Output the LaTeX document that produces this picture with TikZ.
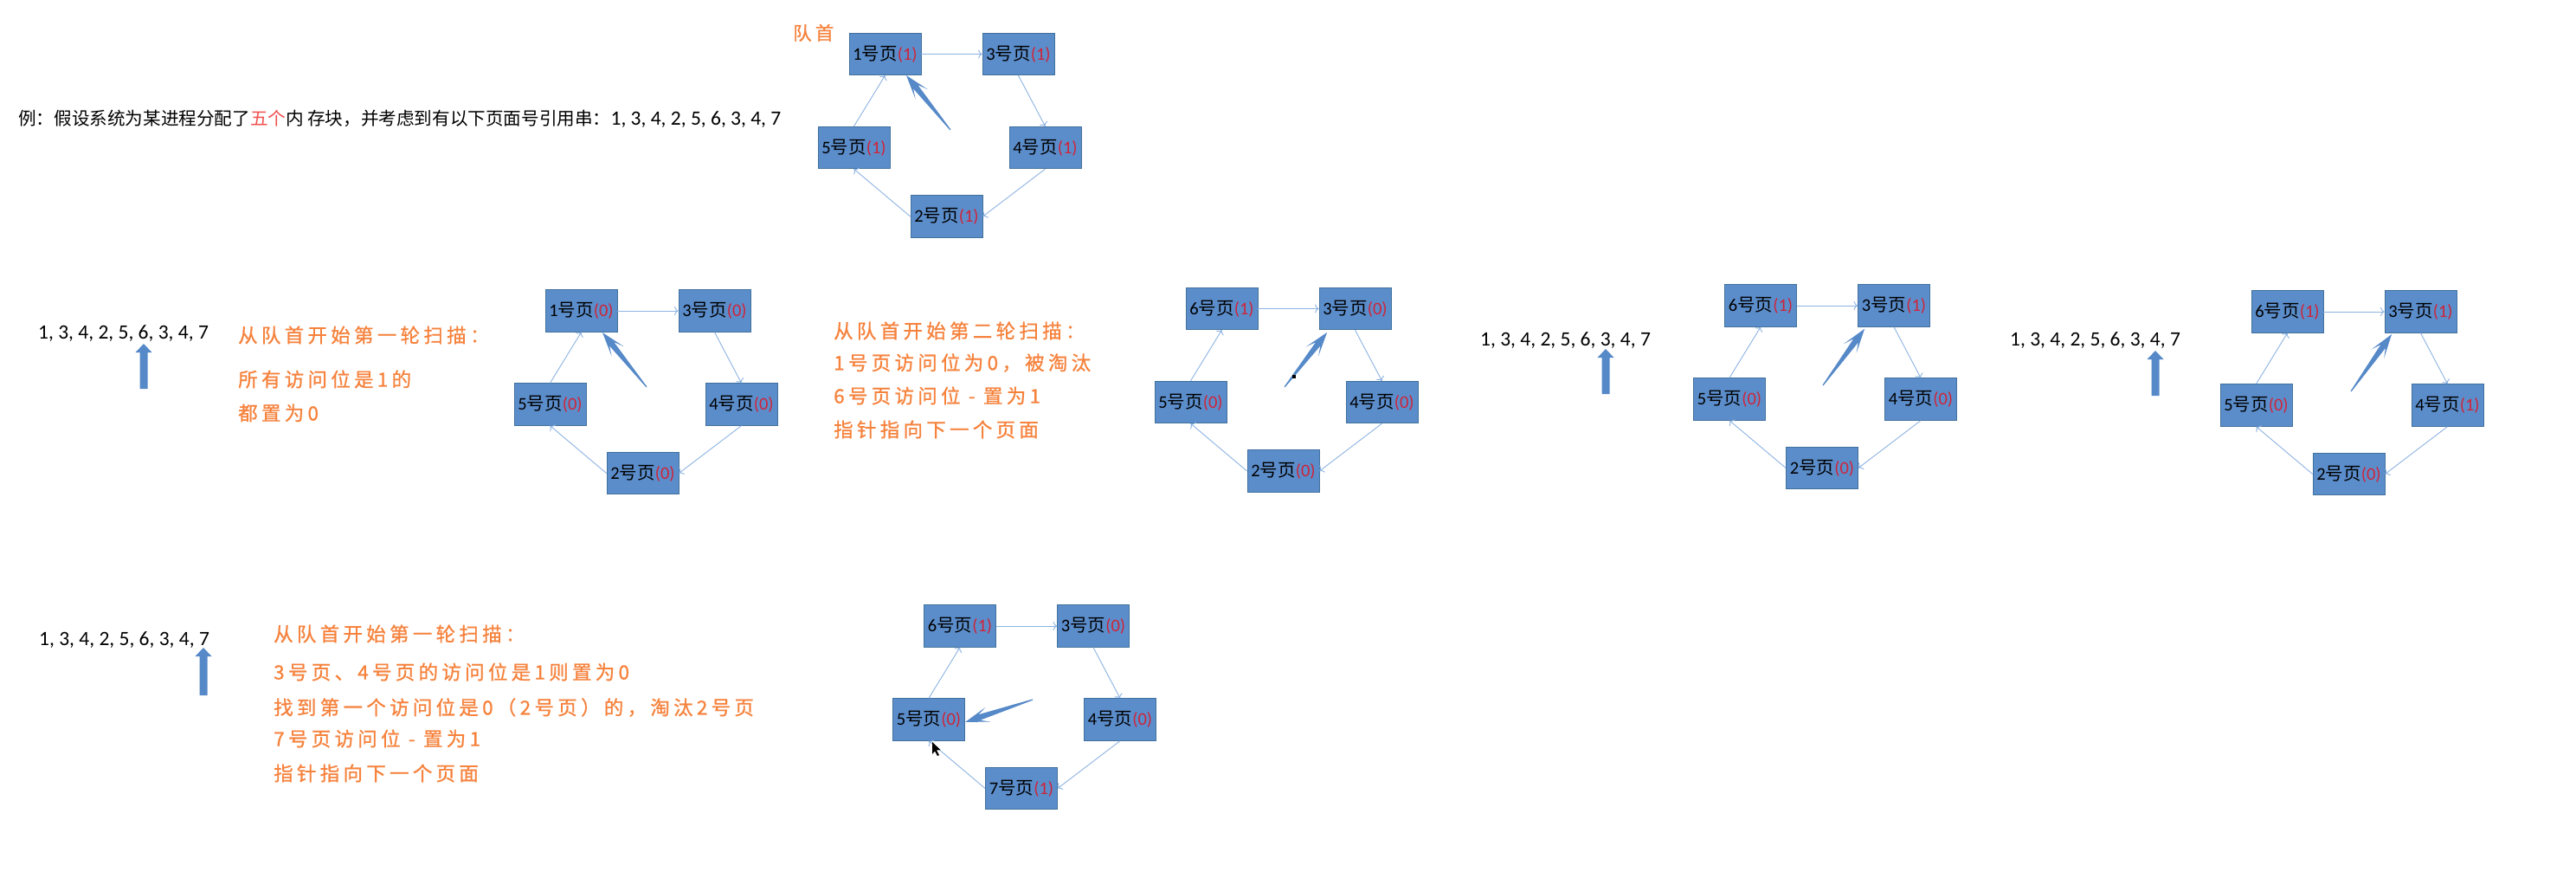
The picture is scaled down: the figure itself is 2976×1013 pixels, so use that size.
\documentclass[tikz,border=0pt]{standalone}
\usepackage{fontspec}
\setmainfont{Carlito}
\newfontfamily\cjk{Noto Sans CJK SC}
\newfontfamily\cjko[LetterSpace=19,FakeBold=0.8]{Noto Sans CJK SC}
\usetikzlibrary{arrows.meta}
\definecolor{boxfill}{RGB}{91,141,203}
\definecolor{boxline}{RGB}{65,113,156}
\definecolor{connblue}{RGB}{141,179,226}
\definecolor{ptrcol}{RGB}{86,137,200}
\definecolor{orangetxt}{RGB}{246,130,60}
\definecolor{bitred}{RGB}{208,36,56}
\definecolor{redfive}{RGB}{240,80,79}
\newcommand\lbl{\fontsize{20.5}{24}\selectfont}
\newcommand\pg[2]{#1{\cjk 号页}\textcolor{bitred}{(#2)}}
\newcommand\ring[7]{%
  \begin{scope}[shift={#2}]
    \node[pagebox] (#1A) at (0,0) {#3};
    \node[pagebox] (#1B) at (154,0) {#4};
    \node[pagebox] (#1D) at (185,108) {#5};
    \node[pagebox] (#1C) at (71,187.5) {#6};
    \node[pagebox] (#1E) at (-36,108) {#7};
  \end{scope}
  \draw[conn] (#1A.east) -- (#1B.west);
  \draw[conn] (#1B.south) -- (#1D.north);
  \draw[conn] (#1D.south) -- (#1C.east);
  \draw[conn] (#1C.west) -- (#1E.south);
  \draw[conn] (#1E.north) -- (#1A.south);
}
\newcommand\blockup[4]{%
  \fill[ptrcol] (#2-4.5,#4) -- (#2-4.5,#3+10) -- (#2-9.5,#3+10) -- (#2,#3)
    -- (#2+9.5,#3+10) -- (#2+4.5,#3+10) -- (#2+4.5,#4) -- cycle;
  \coordinate (#1) at (#2,#3);
}
\tikzset{
  pagebox/.style={draw=boxline, line width=0.8pt, fill=boxfill, minimum width=83pt,
    minimum height=48.5pt, inner sep=0pt, font=\lbl, text=black},
  conn/.style={draw=connblue, line width=0.9pt, -{To[length=4.5pt,width=10pt]}},
  otext/.style={anchor=west, inner sep=0pt, text=orangetxt,
    font=\cjko\fontsize{22.5}{26}\selectfont},
  numtext/.style={anchor=west, inner sep=0pt, font=\fontsize{23.5}{28}\selectfont},
  pics/pointer/.style={code={
    \fill[ptrcol] (0,0.6) -- (#1-17,3.4) -- (#1-28,9) -- (#1,0) -- (#1-28,-9)
      -- (#1-17,-3.4) -- (0,-0.6) -- cycle;}}
}
\begin{document}
\begin{tikzpicture}[x=1pt,y=-1pt]
\fill[white] (0,0) rectangle (2976,1013);
\useasboundingbox (0,0) rectangle (2976,1013);

% ---------- top: problem statement ----------
\node[anchor=west, inner sep=0pt] (intro) at (21,137)
  {{\cjk\fontsize{20.6}{24}\selectfont 例：假设系统为某进程分配了\textcolor{redfive}{五个}内 存块，并考虑到有以下页面号引用串：}{\fontsize{23.5}{28}\selectfont 1, 3, 4, 2, 5, 6, 3, 4, 7}};
\node[otext, font=\cjko\fontsize{21.5}{25}\selectfont] (head) at (916,38) {队首};

\ring{a}{(1022.5,62.5)}{\pg{1}{1}}{\pg{3}{1}}{\pg{4}{1}}{\pg{2}{1}}{\pg{5}{1}}
\pic[rotate=129.0] at (1098,150) {pointer=81};

% ---------- row 2, diagram 1 ----------
\node[numtext] (s1) at (44,385) {1, 3, 4, 2, 5, 6, 3, 4, 7};
\blockup{u1}{166}{397}{449}
\node[otext] (t1a) at (275,387) {从队首开始第一轮扫描：};
\node[otext] (t1b) at (275,438) {所有访问位是1的};
\node[otext] (t1c) at (275,477) {都置为0};
\ring{b}{(671.5,359)}{\pg{1}{0}}{\pg{3}{0}}{\pg{4}{0}}{\pg{2}{0}}{\pg{5}{0}}
\pic[rotate=129.0] at (747,447) {pointer=81};

% ---------- row 2, diagram 2 ----------
\node[otext] (t2a) at (963,382) {从队首开始第二轮扫描：};
\node[otext] (t2b) at (963,419) {1号页访问位为0，被淘汰};
\node[otext] (t2c) at (963,457) {6号页访问位 - 置为1};
\node[otext] (t2d) at (963,496) {指针指向下一个页面};
\ring{c}{(1411.5,356.5)}{\pg{6}{1}}{\pg{3}{0}}{\pg{4}{0}}{\pg{2}{0}}{\pg{5}{0}}
\pic[rotate=52.1] at (1484,447) {pointer=80};
\fill[black] (1493,433) rectangle (1497,437);

% ---------- row 2, diagram 3 ----------
\node[numtext] (s3) at (1710,393) {1, 3, 4, 2, 5, 6, 3, 4, 7};
\blockup{u3}{1855}{403}{455}
\ring{d}{(2034,353)}{\pg{6}{1}}{\pg{3}{1}}{\pg{4}{0}}{\pg{2}{0}}{\pg{5}{0}}
\pic[rotate=53.6] at (2106,445) {pointer=81};

% ---------- row 2, diagram 4 ----------
\node[numtext] (s4) at (2322,393) {1, 3, 4, 2, 5, 6, 3, 4, 7};
\blockup{u4}{2490}{405}{457}
\ring{e}{(2642.5,360)}{\pg{6}{1}}{\pg{3}{1}}{\pg{4}{1}}{\pg{2}{0}}{\pg{5}{0}}
\pic[rotate=54.5] at (2716,452) {pointer=81};

% ---------- row 3 ----------
\node[numtext] (s5) at (45,739) {1, 3, 4, 2, 5, 6, 3, 4, 7};
\blockup{u5}{235}{748}{803}
\node[otext] (t5a) at (316,732) {从队首开始第一轮扫描：};
\node[otext] (t5b) at (316,776) {3号页、4号页的访问位是1则置为0};
\node[otext] (t5c) at (316,817) {找到第一个访问位是0（2号页）的，淘汰2号页};
\node[otext] (t5d) at (316,853) {7号页访问位 - 置为1};
\node[otext] (t5e) at (316,893) {指针指向下一个页面};
\ring{f}{(1109,723)}{\pg{6}{1}}{\pg{3}{0}}{\pg{4}{0}}{\pg{7}{1}}{\pg{5}{0}}
\pic[rotate=198.4] at (1193,808) {pointer=82};
\fill[black] (1077,857) -- (1077,871) -- (1080,867.5) -- (1083,873) -- (1085,872) -- (1082,866.5) -- (1086.5,866) -- cycle;
\end{tikzpicture}
\end{document}
